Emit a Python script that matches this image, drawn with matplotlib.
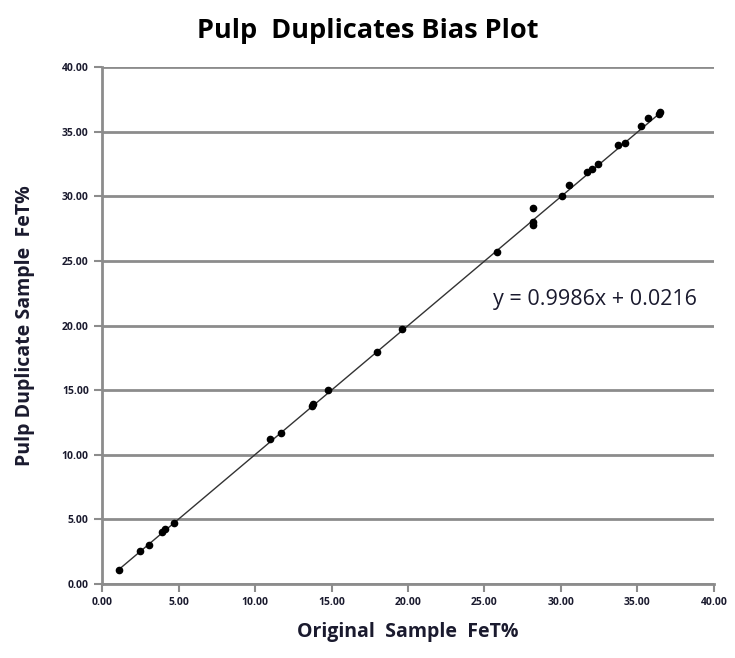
import numpy as np
import matplotlib.pyplot as plt

# --- Data ---
original_fet = [1.1, 2.5, 3.05, 3.9, 4.1, 4.7, 11.0, 11.7, 13.7, 13.8, 14.8, 17.95,
                19.6, 25.8, 28.15, 28.2, 28.2, 30.05, 30.5, 31.7, 32.0, 32.45,
                33.75, 34.2, 35.2, 35.7, 36.4, 36.5]
duplicate_fet = [1.1, 2.55, 3.05, 4.05, 4.25, 4.7, 11.2, 11.65, 13.75, 13.95, 15.0, 17.95,
                 19.7, 25.7, 27.8, 28.0, 29.1, 30.0, 30.9, 31.9, 32.1, 32.5,
                 33.95, 34.15, 35.45, 36.05, 36.4, 36.55]
slope = 0.9986
intercept = 0.0216
ticks = [0, 5, 10, 15, 20, 25, 30, 35, 40]

plt.rcParams['font.family'] = ['Open Sans', 'DejaVu Sans']

fig = plt.figure(figsize=(7.35, 6.58), dpi=100)
ax = fig.add_axes([0.1388, 0.1125, 0.8326, 0.7855])

grid_color = '#8c8c8c'
text_color = '#1a1a2e'

# trendline over the data range
x_fit = np.array([min(original_fet), max(original_fet)])
ax.plot(x_fit, slope * x_fit + intercept, color='#333333', lw=1.0, zorder=2)

ax.plot(original_fet, duplicate_fet, 'o', color='black', markersize=4.5, zorder=3)

ax.set_xlim(0, 40)
ax.set_ylim(0, 40)
ax.set_xticks(ticks)
ax.set_yticks(ticks)
ax.set_xticklabels([f'{t:.2f}' for t in ticks])
ax.set_yticklabels([f'{t:.2f}' for t in ticks])

ax.yaxis.grid(True, color=grid_color, lw=2)
ax.set_axisbelow(True)

for side in ['top', 'right']:
    ax.spines[side].set_visible(False)
for side in ['left', 'bottom']:
    ax.spines[side].set_color(grid_color)
    ax.spines[side].set_linewidth(2)

ax.tick_params(axis='both', direction='out', length=6, width=1.5, color=grid_color,
               labelsize=7.5, labelcolor=text_color)
for lbl in ax.get_xticklabels() + ax.get_yticklabels():
    lbl.set_fontweight('bold')

ax.set_xlabel('Original  Sample  FeT%', fontsize=14, fontweight='bold', color=text_color, labelpad=10)
ax.set_ylabel('Pulp Duplicate Sample  FeT%', fontsize=14, fontweight='bold', color=text_color, labelpad=19)

fig.text(0.5, 0.953, 'Pulp  Duplicates Bias Plot', fontsize=19.5, fontweight='bold',
         color='black', ha='center', va='center')

ax.text(25.55, 22.0, f'y = {slope}x + {intercept}', fontsize=15.5, color=text_color,
        va='center', ha='left')

fig.savefig('out.png', dpi=100, facecolor='white')
